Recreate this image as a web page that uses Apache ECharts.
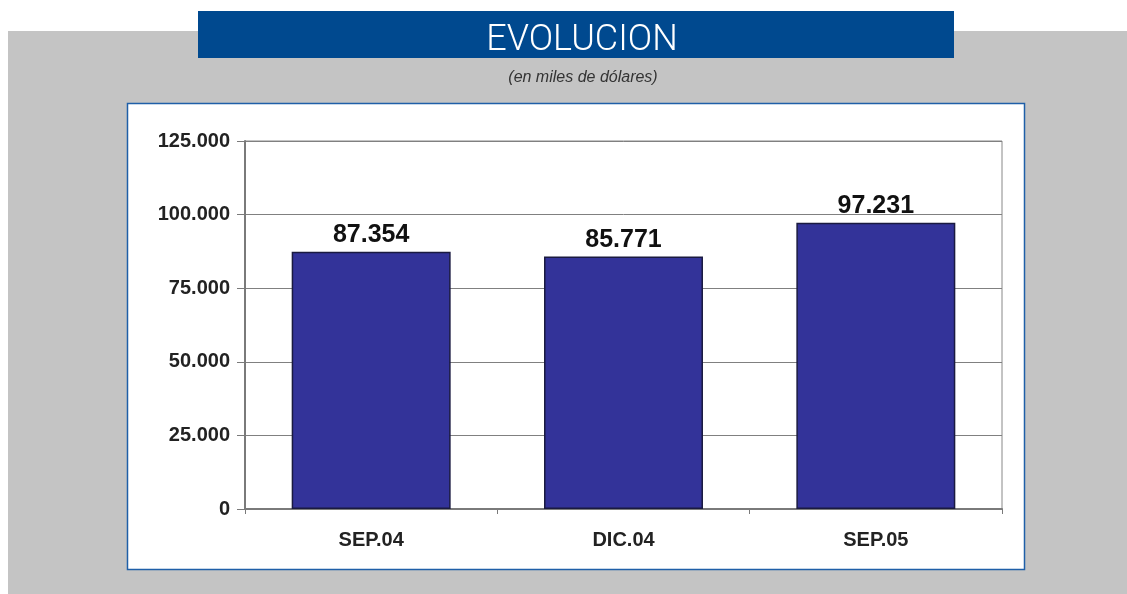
<!DOCTYPE html>
<html>
<head>
<meta charset="utf-8">
<script src="https://cdn.jsdelivr.net/npm/echarts@6/dist/echarts.min.js"></script>
<style>
html,body{margin:0;padding:0;background:#ffffff;}
#chart{width:1127px;height:594px;}
</style>
</head>
<body>
<div id="chart"></div>
<script>
var categories = ['SEP.04', 'DIC.04', 'SEP.05'];
var values = [87354, 85771, 97231];
var yTicks = [0, 25000, 50000, 75000, 100000, 125000];
var titleText = 'EVOLUCION';
var subtitleText = '(en miles de dólares)';

function fmt(v) {
  return String(v).replace(/\B(?=(\d{3})+(?!\d))/g, '.');
}

var chart = echarts.init(document.getElementById('chart'), null, {renderer: 'canvas'});
chart.setOption({
  animation: false,
  backgroundColor: '#ffffff',
  graphic: [
    {type: 'rect', z: -10, shape: {x: 8, y: 31, width: 1119, height: 563}, style: {fill: '#c4c4c4'}},
    {type: 'rect', z: -9, shape: {x: 198, y: 11, width: 756, height: 47}, style: {fill: '#00498f'}},
    {type: 'rect', z: -9, shape: {x: 127.5, y: 103.5, width: 897, height: 466}, style: {fill: '#ffffff', stroke: '#1f5fa8', lineWidth: 1.5}}
  ],
  title: [
    {text: titleText, left: 577, top: 16, textAlign: 'center',
     textStyle: {color: '#ffffff', fontFamily: 'Roboto', fontWeight: 300, fontSize: 36, lineHeight: 40}},
    {text: subtitleText, left: 578, top: 65, textAlign: 'center',
     textStyle: {color: '#333333', fontFamily: 'Liberation Sans', fontStyle: 'italic', fontWeight: 'normal', fontSize: 16}}
  ],
  grid: {left: 245, right: 125, top: 141, bottom: 85, show: true, borderColor: '#888888', borderWidth: 1, backgroundColor: '#ffffff'},
  xAxis: {
    type: 'category',
    data: categories,
    boundaryGap: true,
    axisLine: {lineStyle: {color: '#7a7a7a', width: 2}},
    axisTick: {show: true, alignWithLabel: false, length: 5, lineStyle: {color: '#7a7a7a'}},
    axisLabel: {margin: 21, color: '#222222', fontFamily: 'Liberation Sans', fontWeight: 'bold', fontSize: 20}
  },
  yAxis: {
    type: 'value',
    min: 0, max: 125000, interval: 25000,
    axisLine: {show: true, lineStyle: {color: '#7a7a7a', width: 2}},
    axisTick: {show: true, length: 8, lineStyle: {color: '#7a7a7a'}},
    splitLine: {show: true, lineStyle: {color: '#808080', width: 1}},
    axisLabel: {margin: 15, color: '#222222', fontFamily: 'Liberation Sans', fontWeight: 'bold', fontSize: 20,
      formatter: function (v) { return fmt(v); }}
  },
  series: [{
    type: 'bar',
    data: values,
    barWidth: '63%',
    itemStyle: {color: '#333399', borderColor: '#1a1a40', borderWidth: 1.5},
    label: {show: true, position: 'top', distance: 4, color: '#111111', fontFamily: 'Liberation Sans', fontWeight: 'bold', fontSize: 25,
      formatter: function (p) { return fmt(p.value); }}
  }]
});
</script>
</body>
</html>
